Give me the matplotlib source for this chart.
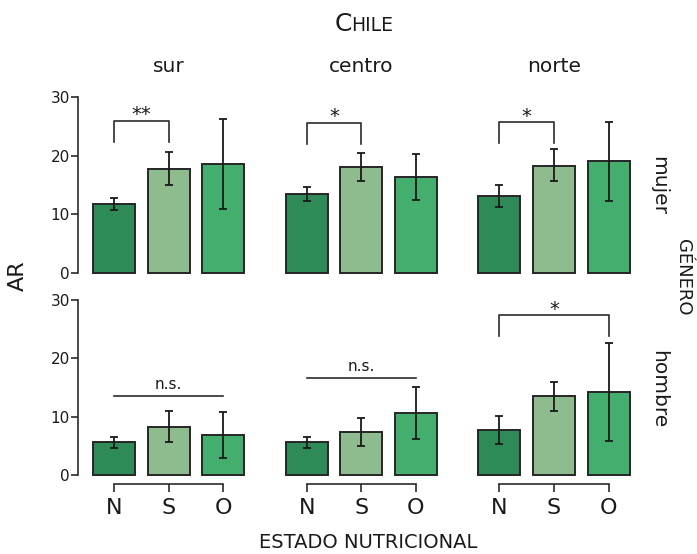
import numpy as np
import matplotlib
matplotlib.use("Agg")  # sin pantalla
import matplotlib.pyplot as plt

regiones = ["sur", "centro", "norte"]
generos = ["mujer", "hombre"]
estados = ["N", "S", "O"]
colores = ["#2e8b57", "#8fbc8f", "#44ae6f"]

# filas: sur, centro, norte / columnas: N, S, O
mujer_media = [[11.8, 17.8, 18.5], [13.5, 18.1, 16.4], [13.1, 18.3, 19.0]]
mujer_ci_lo = [[10.7, 15.0, 10.9], [12.3, 15.6, 12.4], [11.2, 15.6, 12.2]]
mujer_ci_hi = [[12.8, 20.6, 26.2], [14.7, 20.5, 20.3], [15.0, 21.1, 25.7]]
hombre_media = [[5.6, 8.3, 6.9], [5.6, 7.4, 10.6], [7.8, 13.5, 14.3]]
hombre_ci_lo = [[4.7, 5.6, 3.0], [4.6, 5.0, 6.2], [5.4, 11.0, 5.8]]
hombre_ci_hi = [[6.6, 11.0, 10.9], [6.6, 9.8, 15.1], [10.2, 16.0, 22.7]]

# (genero, region, desde, hasta, altura, texto)
comparaciones = [
    ("mujer", "sur", 0, 1, 25.9, "**"),
    ("mujer", "centro", 0, 1, 25.6, "*"),
    ("mujer", "norte", 0, 1, 25.7, "*"),
    ("hombre", "sur", 0, 2, 13.6, "n.s."),
    ("hombre", "centro", 0, 2, 16.6, "n.s."),
    ("hombre", "norte", 0, 2, 27.4, "*"),
]

datos = {
    "mujer": (mujer_media, mujer_ci_lo, mujer_ci_hi),
    "hombre": (hombre_media, hombre_ci_lo, hombre_ci_hi),
}

W, H = 697, 554
TXT = "#1a1a1a"
LINEA = "#2b2b2b"


def fx(px):
    return px / W


def fy(py):
    return 1 - py / H


izq_px = [86.6, 279.3, 472.0]
ancho_px = 164.0
filas_px = [(96.7, 273.3), (300.0, 475.2)]  # (arriba, abajo)

fig = plt.figure(figsize=(W / 100, H / 100), dpi=100)
ejes = {}
for r, genero in enumerate(generos):
    media_g, lo_g, hi_g = datos[genero]
    arriba, abajo = filas_px[r]
    for c, region in enumerate(regiones):
        ax = fig.add_axes([fx(izq_px[c]), fy(abajo), fx(ancho_px), (abajo - arriba) / H])
        ejes[(genero, region)] = ax
        x = np.arange(len(estados))
        media = np.array(media_g[c])
        lo = np.array(lo_g[c])
        hi = np.array(hi_g[c])
        ax.bar(x, media, width=0.77, color=colores, edgecolor="#262626",
               linewidth=1.4, zorder=2, clip_on=False)
        ax.errorbar(x, media, yerr=[media - lo, hi - media], fmt="none",
                    ecolor=TXT, elinewidth=1.3, capsize=2.6, capthick=1.3,
                    zorder=3, clip_on=False)
        ax.set_xlim(-0.5, 2.5)
        ax.set_ylim(0, 30)
        for s in ["top", "right"]:
            ax.spines[s].set_visible(False)

        if c == 0:
            ax.spines["left"].set_position(("outward", 6))
            ax.spines["left"].set_bounds(0, 30)
            ax.spines["left"].set_linewidth(1.2)
            ax.spines["left"].set_color(LINEA)
            ax.set_yticks([0, 10, 20, 30])
            ax.tick_params(axis="y", length=5, width=1.2, color=LINEA,
                           pad=1, labelsize=11, labelcolor=TXT)
        else:
            ax.spines["left"].set_visible(False)
            ax.set_yticks([])

        if r == 1:
            ax.spines["bottom"].set_position(("outward", 6.5))
            ax.spines["bottom"].set_bounds(0, 2)
            ax.spines["bottom"].set_linewidth(1.2)
            ax.spines["bottom"].set_color(LINEA)
            ax.set_xticks(x)
            ax.set_xticklabels(estados)
            ax.tick_params(axis="x", length=6, width=1.2, color=LINEA,
                           pad=4, labelsize=16, labelcolor=TXT)
        else:
            ax.spines["bottom"].set_visible(False)
            ax.set_xticks([])

        if r == 0:
            ax.set_title(region, fontsize=14.5, pad=17.5, color=TXT)

# significancia
for genero, region, i, j, y, texto in comparaciones:
    ax = ejes[(genero, region)]
    if texto == "n.s.":
        ax.plot([i, j], [y, y], color=LINEA, lw=1.2, clip_on=False, zorder=4)
        ax.annotate(texto, ((i + j) / 2, y), xytext=(0, 3), textcoords="offset points",
                    ha="center", va="bottom", fontsize=11, color=TXT)
    else:
        ax.plot([i, i, j, j], [y - 3.6, y, y, y - 3.6], color=LINEA, lw=1.2,
                clip_on=False, zorder=4)
        ax.annotate(texto, ((i + j) / 2, y), xytext=(0, 0.3), textcoords="offset points",
                    ha="center", va="baseline", fontsize=14, color=TXT)

# textos generales
fig.text(fx(351.5), fy(30.7), "C", ha="right", va="baseline", fontsize=18, color=TXT)
fig.text(fx(351.5), fy(30.7), "HILE", ha="left", va="baseline", fontsize=13.5, color=TXT)
fig.text(fx(659), fy(186), "mujer", rotation=-90, ha="center", va="center",
         fontsize=14.5, color=TXT)
fig.text(fx(659), fy(389), "hombre", rotation=-90, ha="center", va="center",
         fontsize=14.5, color=TXT)
fig.text(fx(683), fy(277), "GÉNERO", rotation=-90, ha="center", va="center",
         fontsize=13, color=TXT)
fig.text(fx(17.5), fy(276), "AR", rotation=90, ha="center", va="center",
         fontsize=16, color=TXT)
fig.text(fx(368), fy(543), "ESTADO NUTRICIONAL", ha="center", va="center",
         fontsize=14, color=TXT)

fig.savefig("out.png", dpi=100)
